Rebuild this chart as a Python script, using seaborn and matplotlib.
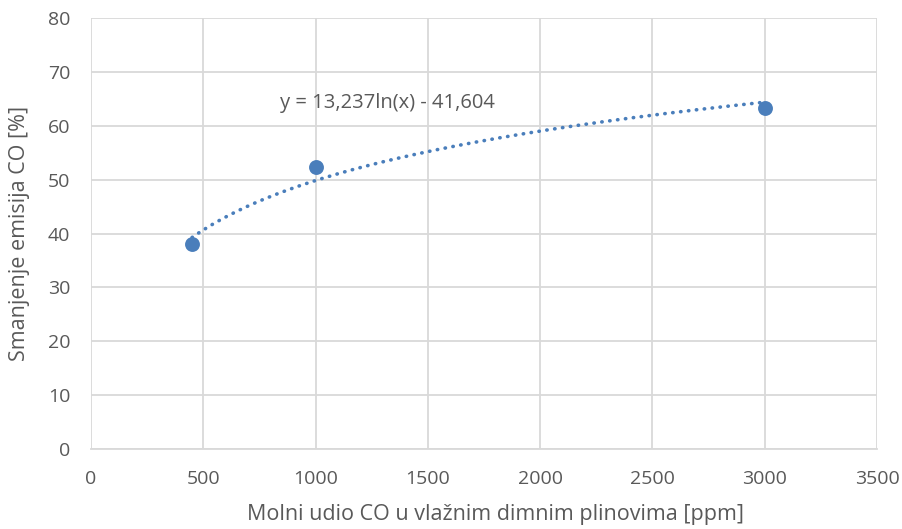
import matplotlib.pyplot as plt
import seaborn as sns
import numpy as np
import pandas as pd

# izmjereni podaci
co_ppm = [450, 1000, 3000]
smanjenje = [38.0, 52.4, 63.3]

# logaritamska linija trenda (Excel)
a, b = 13.237, -41.604
eq_label = "y = 13,237ln(x) - 41,604"

x_ticks = [0, 500, 1000, 1500, 2000, 2500, 3000, 3500]
y_ticks = [0, 10, 20, 30, 40, 50, 60, 70, 80]

sns.set_theme(style="white")
plt.rcParams['font.family'] = ['Open Sans', 'DejaVu Sans']

txt = "#595959"
blue = "#4a7ebb"
grid = "#d9d9d9"

fig = plt.figure(figsize=(9.02, 5.29), dpi=100)
ax = fig.add_axes([0.1009, 0.1512, 0.8714, 0.8148])

xt = np.linspace(min(co_ppm), max(co_ppm), 200)
trend = pd.DataFrame({"x": xt, "y": a * np.log(xt) + b})
sns.lineplot(data=trend, x="x", y="y", ax=ax, color=blue, lw=2.6,
             linestyle=(0, (0.1, 2.1)), dash_capstyle="round", zorder=3)

df = pd.DataFrame({"x": co_ppm, "y": smanjenje})
sns.scatterplot(data=df, x="x", y="y", ax=ax, color=blue, s=115,
                edgecolor=blue, linewidth=0, zorder=4)

ax.text(1318, 64.3, eq_label, ha="center", va="center", fontsize=14.5, color=txt)

ax.set_xlim(0, 3500)
ax.set_ylim(0, 80)
ax.set_xticks(x_ticks)
ax.set_yticks(y_ticks)
ax.grid(True, color=grid, lw=1.3)
ax.set_axisbelow(True)
for s in ["top", "right", "left"]:
    ax.spines[s].set_visible(False)
ax.spines["bottom"].set_color(grid)
ax.spines["bottom"].set_linewidth(1.3)
ax.tick_params(axis="both", length=0, labelsize=14, labelcolor=txt, pad=15)

ax.set_xlabel("Molni udio CO u vlažnim dimnim plinovima [ppm]", fontsize=15.5, color=txt)
ax.set_ylabel("Smanjenje emisija CO [%]", fontsize=15.5, color=txt)
ax.xaxis.set_label_coords(0.515, -0.128)
ax.yaxis.set_label_coords(-0.078, 0.5)

fig.savefig("out.png", dpi=100)
